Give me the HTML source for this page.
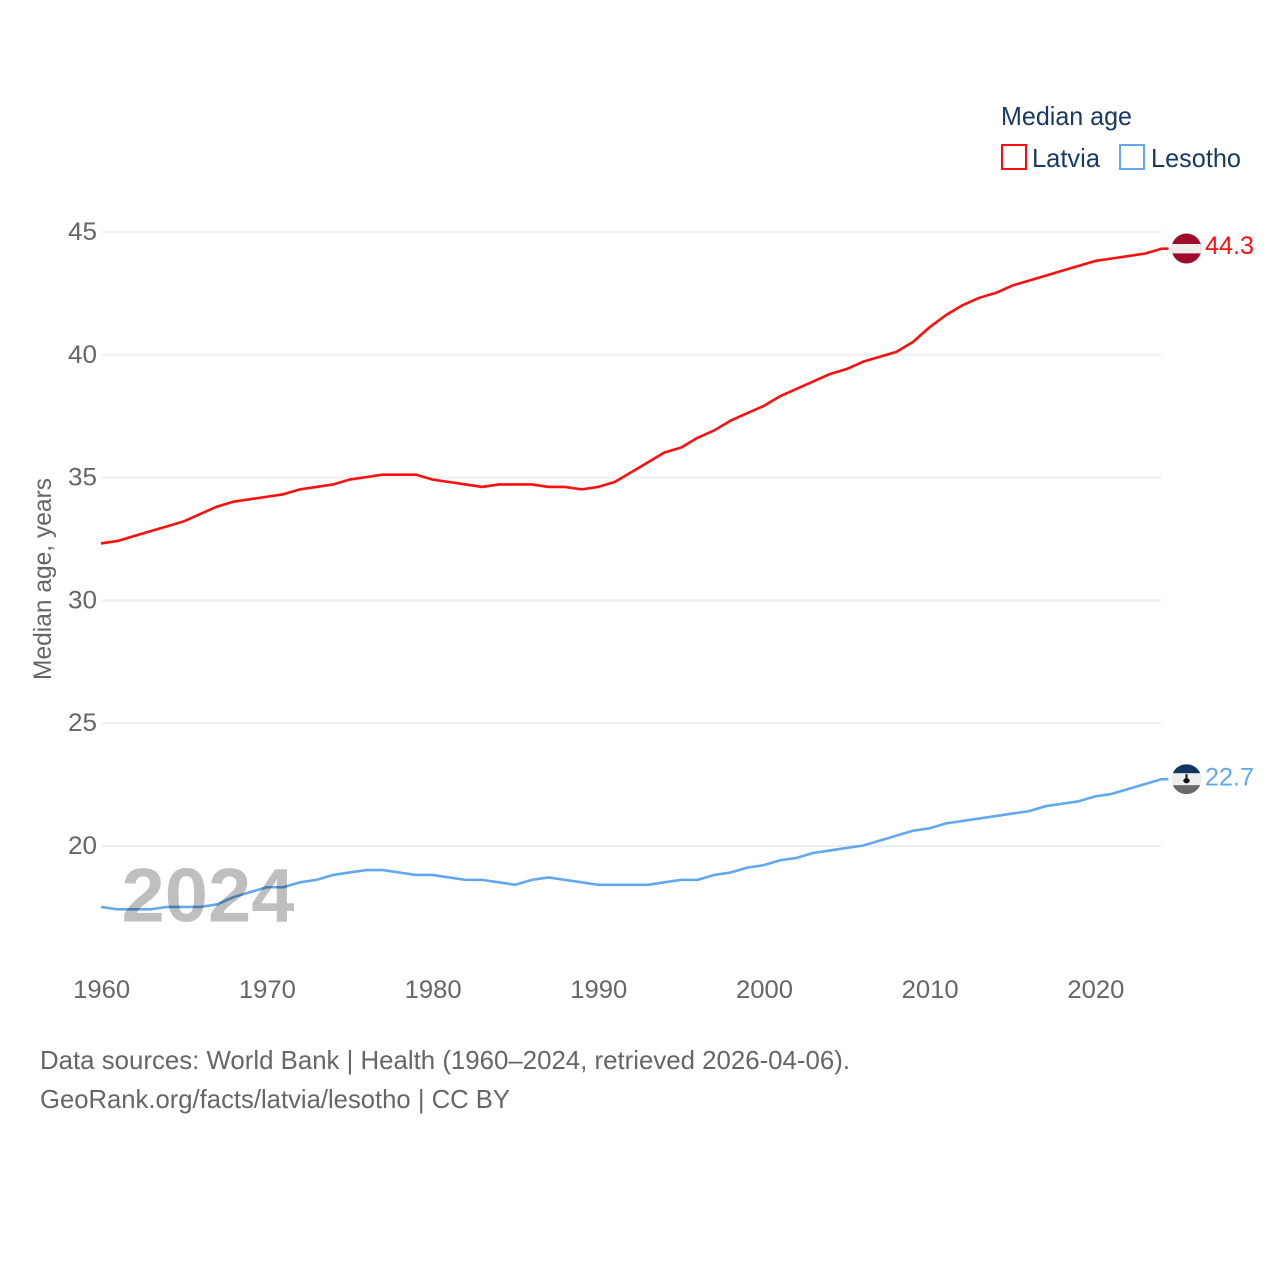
<!DOCTYPE html>
<html lang="en">
<head>
<meta charset="utf-8">
<title>Median age: Latvia and Lesotho</title>
<style>
html,body{margin:0;padding:0;background:#fff;}
svg{display:block;}
text{font-family:"Liberation Sans",sans-serif;}
</style>
</head>
<body>
<svg id="chart" width="1280" height="1280" viewBox="0 0 1280 1280" xmlns="http://www.w3.org/2000/svg">
  <defs>
    <clipPath id="marker-clip-latvia"><circle id="clip-latvia" r="15"></circle></clipPath>
    <clipPath id="marker-clip-lesotho"><circle id="clip-lesotho" r="15"></circle></clipPath>
  </defs>
  <rect width="1280" height="1280" fill="#ffffff"></rect>
  <g id="grid"></g>
  <g id="y-axis"></g>
  <g id="x-axis"></g>
  <g id="series"></g>
  <g id="markers"></g>
  <text transform="translate(51,680) rotate(-90)" font-size="25" fill="#666666" textLength="202" lengthAdjust="spacingAndGlyphs">Median age, years</text>
  <text x="121.5" y="921.5" font-size="76" font-weight="700" fill="#000000" fill-opacity="0.25" textLength="173" lengthAdjust="spacingAndGlyphs">2024</text>
  <g>
    <text x="1001" y="125" font-size="26" fill="#1a3a63" textLength="131" lengthAdjust="spacingAndGlyphs">Median age</text>
    <rect x="1002" y="145" width="24" height="24" fill="none" stroke="#ff0e0e" stroke-width="2"></rect>
    <text x="1032" y="167" font-size="26" fill="#1a3a63" textLength="68" lengthAdjust="spacingAndGlyphs">Latvia</text>
    <rect x="1120" y="145" width="24" height="24" fill="none" stroke="#62a8ee" stroke-width="2"></rect>
    <text x="1151" y="167" font-size="26" fill="#1a3a63" textLength="90" lengthAdjust="spacingAndGlyphs">Lesotho</text>
  </g>
  <text x="40" y="1069" font-size="26" fill="#666666" textLength="810" lengthAdjust="spacingAndGlyphs">Data sources: World Bank | Health (1960–2024, retrieved 2026-04-06).</text>
  <text x="40" y="1108" font-size="26" fill="#666666" textLength="470" lengthAdjust="spacingAndGlyphs">GeoRank.org/facts/latvia/lesotho | CC BY</text>
</svg>
<script>
const startYear = 1960;
const yTicks = [20, 25, 30, 35, 40, 45];
const xTicks = [1960, 1970, 1980, 1990, 2000, 2010, 2020];
const latviaValues = [32.3,32.4,32.6,32.8,33.0,33.2,33.5,33.8,34.0,34.1,34.2,34.3,34.5,34.6,34.7,34.9,35.0,35.1,35.1,35.1,34.9,34.8,34.7,34.6,34.7,34.7,34.7,34.6,34.6,34.5,34.6,34.8,35.2,35.6,36.0,36.2,36.6,36.9,37.3,37.6,37.9,38.3,38.6,38.9,39.2,39.4,39.7,39.9,40.1,40.5,41.1,41.6,42.0,42.3,42.5,42.8,43.0,43.2,43.4,43.6,43.8,43.9,44.0,44.1,44.3];
const lesothoValues = [17.5,17.4,17.4,17.4,17.5,17.5,17.5,17.6,17.9,18.1,18.3,18.3,18.5,18.6,18.8,18.9,19.0,19.0,18.9,18.8,18.8,18.7,18.6,18.6,18.5,18.4,18.6,18.7,18.6,18.5,18.4,18.4,18.4,18.4,18.5,18.6,18.6,18.8,18.9,19.1,19.2,19.4,19.5,19.7,19.8,19.9,20.0,20.2,20.4,20.6,20.7,20.9,21.0,21.1,21.2,21.3,21.4,21.6,21.7,21.8,22.0,22.1,22.3,22.5,22.7];

const NS = 'http://www.w3.org/2000/svg';
const xScale = function (year) { return 102 + (year - 1960) * (1096.2 - 102) / 60; };
const yScale = function (v) { return 232 + (45 - v) * (846 - 232) / 25; };
const make = function (tag, attrs, parent) {
  const el = document.createElementNS(NS, tag);
  Object.keys(attrs).forEach(function (k) { el.setAttribute(k, attrs[k]); });
  parent.appendChild(el);
  return el;
};
const gridG = document.getElementById('grid');
const yG = document.getElementById('y-axis');
const xG = document.getElementById('x-axis');
const seriesG = document.getElementById('series');
const markersG = document.getElementById('markers');

yTicks.forEach(function (t) {
  const line = make('line', {x1: xScale(1960), x2: 1161, y1: yScale(t), y2: yScale(t), stroke: '#eeeeee', 'stroke-width': 2}, gridG);
  
  
  const label = make('text', {x: 97, y: yScale(t) + 8, 'text-anchor': 'end', 'font-size': 25, fill: '#666666', textLength: 29, lengthAdjust: 'spacingAndGlyphs'}, yG);
  
  
  label.textContent = String(t);
});

xTicks.forEach(function (t) {
  const label = make('text', {x: xScale(t) - 0.3, y: 998, 'text-anchor': 'middle', 'font-size': 25, fill: '#666666', textLength: 57, lengthAdjust: 'spacingAndGlyphs'}, xG);
  
  
  label.textContent = String(t);
});

const buildPath = function (values) {
  let d = '';
  values.forEach(function (v, i) {
    d += (i === 0 ? 'M' : 'L') + (xScale(startYear + i) - 1).toFixed(2) + ' ' + (yScale(v) - 0.5).toFixed(2);
  });
  const last = values[values.length - 1];
  d += 'L' + (xScale(startYear + values.length - 1) + 6).toFixed(2) + ' ' + (yScale(last) - 0.5).toFixed(2);
  return d;
};

const latviaLine = make('path', {d: buildPath(latviaValues), fill: 'none', stroke: '#ff0e0e', 'stroke-width': 2.6, 'stroke-linejoin': 'round'}, seriesG);


const lesothoLine = make('path', {d: buildPath(lesothoValues), fill: 'none', stroke: '#62a8ee', 'stroke-width': 2.6, 'stroke-linejoin': 'round'}, seriesG);



const markerX = 1186.5;

// Latvia flag marker
const latLast = latviaValues[latviaValues.length - 1];
const latY = yScale(latLast) - 0.7;
const latClip = document.getElementById('clip-latvia');
latClip.setAttribute('cx', markerX);
latClip.setAttribute('cy', latY);
const latFlag = make('g', {'clip-path': 'url(#marker-clip-latvia)'}, markersG);


make('rect', {x: markerX - 15, y: latY - 15, width: 30, height: 30, fill: '#9e0b2c'}, latFlag);
make('rect', {x: markerX - 15, y: latY - 4.5, width: 30, height: 9.4, fill: '#eeeeee'}, latFlag);
const latLabel = make('text', {x: 1205, y: latY + 5.5, 'font-size': 25, fill: '#ff0e0e', textLength: 49, lengthAdjust: 'spacingAndGlyphs'}, markersG);


latLabel.textContent = latLast.toFixed(1);

// Lesotho flag marker
const lesLast = lesothoValues[lesothoValues.length - 1];
const lesY = yScale(lesLast) - 0.5;
const lesClip = document.getElementById('clip-lesotho');
lesClip.setAttribute('cx', markerX);
lesClip.setAttribute('cy', lesY);
const lesFlag = make('g', {'clip-path': 'url(#marker-clip-lesotho)'}, markersG);


make('rect', {x: markerX - 15, y: lesY - 15, width: 30, height: 30, fill: '#eeeeee'}, lesFlag);
make('rect', {x: markerX - 15, y: lesY - 15, width: 30, height: 9, fill: '#12355f'}, lesFlag);
make('rect', {x: markerX - 15, y: lesY + 6, width: 30, height: 9, fill: '#696969'}, lesFlag);
make('rect', {x: markerX - 1, y: lesY - 5, width: 2, height: 6, fill: '#111111'}, lesFlag);
make('ellipse', {cx: markerX, cy: lesY + 1.5, rx: 3.2, ry: 2.6, fill: '#111111'}, lesFlag);
const lesLabel = make('text', {x: 1205, y: lesY + 6.5, 'font-size': 25, fill: '#62a8ee', textLength: 49, lengthAdjust: 'spacingAndGlyphs'}, markersG);


lesLabel.textContent = lesLast.toFixed(1);
</script>
</body>
</html>
